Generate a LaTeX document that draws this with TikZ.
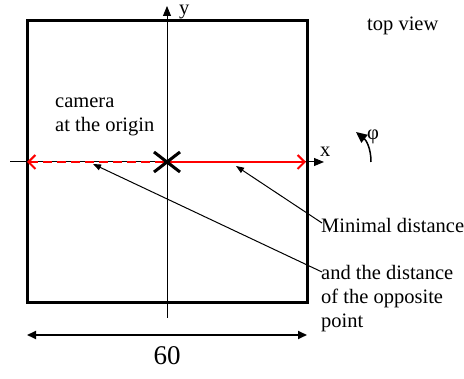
\documentclass[tikz,border=0pt]{standalone}
\usepackage{fontspec}
\setmainfont{Liberation Serif}
\usetikzlibrary{arrows.meta}
\begin{document}
\begin{tikzpicture}[x=1pt,y=-1pt,
  lbl/.style={inner sep=0pt,font=\fontsize{20.5}{24}\selectfont,align=left},
  axis/.style={line width=1pt,-{Triangle[length=10pt,width=8pt]}},
  redarr/.style={red,line width=2pt,{Straight Barb[length=7pt,width=14pt]}-{Straight Barb[length=7pt,width=14pt]}},
  pointer/.style={line width=1pt,-{Triangle[length=8pt,width=6pt]}},
  dimarr/.style={line width=2pt,{Triangle[length=9pt,width=8pt]}-{Triangle[length=9pt,width=8pt]}}]
\useasboundingbox (0,0) rectangle (464,379);
% square
\draw[line width=3pt] (27,21) rectangle (307,303);
% axes
\coordinate (xs) at (10,162);
\coordinate (xe) at (324,162);
\coordinate (ys) at (167,318);
\coordinate (ye) at (167,6);
\draw[axis] (xs) -- (xe);
\draw[axis] (ys) -- (ye);
\node[lbl,anchor=base west] (xl) at (320,157) {x};
\node[lbl,anchor=base west] (yl) at (179,15) {y};
% red distances
\coordinate (L) at (27,162);
\coordinate (O) at (167,162);
\coordinate (R) at (306,162);
\draw[redarr,dash pattern=on 9pt off 5pt] (L) -- (O);
\draw[redarr] (O) -- (R);
% camera cross
\draw[line width=3pt] (154,152) -- (180,172) (154,172) -- (180,152);
% texts
\node[lbl,anchor=base west] (cam) at (55,132) {camera\\at the origin};
\node[lbl,anchor=base west] (top) at (367,31) {top view};
\node[lbl,anchor=base west] (mind) at (321,233) {Minimal distance};
\node[lbl,anchor=base west] (opp) at (321,328) {and the distance\\of the opposite\\point};
% pointers
\coordinate (pA) at (322,223);
\coordinate (tA) at (236,166);
\coordinate (pB) at (322,272);
\coordinate (tB) at (93,164);
\draw[pointer] (pA) -- (tA);
\draw[pointer] (pB) -- (tB);
% phi
\coordinate (ps) at (371,162);
\coordinate (pe) at (356,132);
\draw[line width=1.5pt,-{Triangle[length=11pt,width=10pt]}] (ps) .. controls (371,148) and (366,140) .. (pe);
\node[lbl] (phi) at (373,137) {φ};
% dimension
\coordinate (dl) at (27,335);
\coordinate (dr) at (307,335);
\draw[dimarr] (dl) -- (dr);
\node[inner sep=0pt,font=\fontsize{27}{30}\selectfont,anchor=base] (sixty) at (167,365) {60};
\end{tikzpicture}
\end{document}
